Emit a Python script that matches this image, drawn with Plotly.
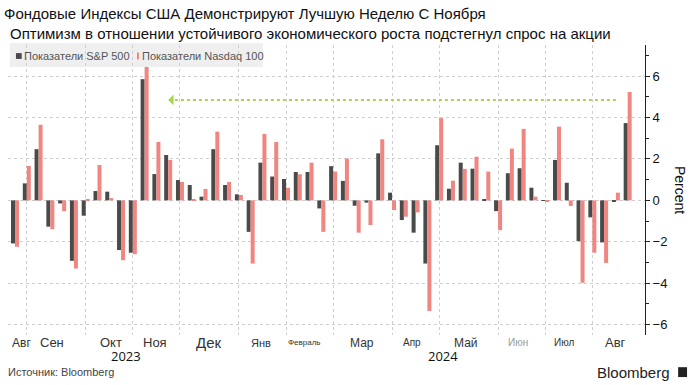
import pandas as pd
import plotly.graph_objects as go

# ---------------- data ----------------
week_start = "2023-08-18"
n_weeks = 53
spx = [-2.08, 0.82, 2.47, -1.27, -0.15, -2.92, -0.74, 0.45, 0.42, -2.40,
       -2.53, 5.85, 1.27, 2.19, 0.98, 0.74, 0.18, 2.47, 0.74, 0.29,
       -1.52, 1.82, 1.15, 1.03, 1.37, 1.37, -0.39, 1.65, 0.94, -0.26,
       -0.11, 2.27, 0.37, -0.95, -1.56, -3.05, 2.66, 0.56, 1.82, 1.53,
       0.02, -0.52, 1.31, 1.55, 0.61, -0.03, 1.95, 0.85, -1.97, -0.82,
       -2.03, -0.05, 3.73]
ndx = [-2.24, 1.66, 3.65, -1.39, -0.52, -3.29, 0.05, 1.71, 0.11, -2.89,
       -2.60, 6.44, 2.82, 1.95, 0.89, 0.06, 0.55, 3.32, 0.89, 0.26,
       -3.05, 3.21, 2.82, 0.61, 1.26, 1.82, -1.52, 1.39, 2.02, -1.56,
       -1.19, 2.95, -0.47, -0.79, -0.58, -5.34, 3.97, 0.95, 1.52, 2.11,
       1.39, -1.44, 2.50, 3.45, 0.18, -0.05, 3.56, -0.27, -3.98, -2.53,
       -3.02, 0.37, 5.23]
series_names = ["Показатели S&P 500", "Показатели Nasdaq 100"]

month_labels = ["Авг", "Сен", "Окт", "Ноя", "Дек", "Янв", "Февраль", "Мар",
                "Апр", "Май", "Июн", "Июл", "Авг"]
month_label_dates = ["2023-08-22", "2023-09-09", "2023-10-14", "2023-11-09",
                     "2023-12-11", "2024-01-11", "2024-02-06", "2024-03-11",
                     "2024-04-10", "2024-05-12", "2024-06-12", "2024-07-09",
                     "2024-08-09"]
year_labels = ["2023", "2024"]
year_label_dates = ["2023-10-23", "2024-04-28"]
grid_dates = ["2023-08-25", "2023-09-29", "2023-10-27", "2023-11-24",
              "2023-12-29", "2024-01-26", "2024-02-23", "2024-03-29",
              "2024-04-26", "2024-05-31", "2024-06-28", "2024-07-26"]
y_ticks = [-6, -4, -2, 0, 2, 4, 6]

arrow_level = 4.85
arrow_from = "2024-08-09"
arrow_to = "2023-11-17"

title = "Фондовые Индексы США Демонстрируют Лучшую Неделю С Ноября"
subtitle = "Оптимизм в отношении устойчивого экономического роста подстегнул спрос на акции"
source = "Источник: Bloomberg"

# ---------------- styles ----------------
dates = pd.date_range(week_start, periods=n_weeks, freq="7D")
dark = "#4a4a4a"
pink = "#ef8682"
font_main = "Liberation Sans, Arial, sans-serif"
label_sizes = [12, 13, 13, 13, 15, 11, 8, 12, 10, 12, 10, 10, 13]
label_colors = ["#333"] * 10 + ["#999"] + ["#333"] * 2

fig = go.Figure()
fig.add_bar(x=dates, y=spx, name=series_names[0], marker_color=dark,
            marker_line_width=0, showlegend=False)
fig.add_bar(x=dates, y=ndx, name=series_names[1], marker_color=pink,
            marker_line_width=0, showlegend=False)

fig.update_layout(
    width=699, height=385,
    margin=dict(l=8, r=54, t=45, b=50),
    paper_bgcolor="white", plot_bgcolor="white",
    barmode="group", bargap=0.32, bargroupgap=0,
    font=dict(family=font_main, color="#222"),
    showlegend=False,
)
fig.update_xaxes(
    type="date", range=["2023-08-13 20:00", "2024-08-26 07:00"],
    tickmode="array", tickvals=grid_dates, ticktext=[""] * len(grid_dates),
    showgrid=True, gridcolor="#cfcfcf", griddash="dot", gridwidth=1,
    ticks="", showline=False, zeroline=False,
)
fig.update_yaxes(
    range=[-6.5, 7.5], side="right",
    tickmode="array", tickvals=y_ticks,
    showgrid=True, gridcolor="#cfcfcf", griddash="dot", gridwidth=1,
    zeroline=False, showline=True, linecolor="#222", linewidth=1,
    ticks="outside", ticklen=4, tickcolor="#222",
    tickfont=dict(size=13, color="#111"),
    minor=dict(tickvals=[-5, -3, -1, 1, 3, 5, 7], ticks="outside", ticklen=3,
               tickcolor="#222", showgrid=False),
)

# arrow (dotted line + head)
fig.add_shape(type="line", xref="x", yref="y", x0=arrow_from, x1=arrow_to,
              y0=arrow_level, y1=arrow_level,
              line=dict(color="#a8d64e", width=2, dash="dot"))
fig.add_annotation(x=arrow_to, y=arrow_level, ax="2023-11-21", ay=arrow_level,
                   xref="x", yref="y", axref="x", ayref="y", text="",
                   showarrow=True, arrowhead=1, arrowsize=1.2, arrowwidth=1.5,
                   arrowcolor="#a8d64e")

# legend (manual)
fig.add_shape(type="rect", xref="paper", yref="paper", x0=0.003, x1=0.400,
              y0=0.924, y1=1.007, fillcolor="#efefef", line_width=0, layer="below")
fig.add_shape(type="rect", xref="paper", yref="paper", x0=0.0125, x1=0.0215,
              y0=0.952, y1=0.972, fillcolor=dark, line_width=0)
fig.add_shape(type="rect", xref="paper", yref="paper", x0=0.2025, x1=0.2055,
              y0=0.950, y1=0.974, fillcolor=pink, line_width=0)
fig.add_annotation(x=0.0225, y=0.962, xref="paper", yref="paper", text=series_names[0],
                   showarrow=False, xanchor="left", yanchor="middle",
                   font=dict(size=11, color="#555"))
fig.add_annotation(x=0.2065, y=0.962, xref="paper", yref="paper", text=series_names[1],
                   showarrow=False, xanchor="left", yanchor="middle",
                   font=dict(size=11, color="#555"))

# month and year labels
for lab, d, s, c in zip(month_labels, month_label_dates, label_sizes, label_colors):
    fig.add_annotation(x=d, y=-0.027, xref="x", yref="paper", text=lab,
                       showarrow=False, xanchor="center", yanchor="middle",
                       font=dict(size=s, color=c))
for lab, d in zip(year_labels, year_label_dates):
    fig.add_annotation(x=d, y=-0.074, xref="x", yref="paper", text=lab,
                       showarrow=False, xanchor="center", yanchor="middle",
                       font=dict(size=13, color="#111", family="Open Sans, sans-serif"))

# titles
fig.add_annotation(x=-0.0094, y=1.110, xref="paper", yref="paper", text=title,
                   showarrow=False, xanchor="left", yanchor="middle",
                   font=dict(size=15, color="#111"))
fig.add_annotation(x=0.0, y=1.041, xref="paper", yref="paper", text=subtitle,
                   showarrow=False, xanchor="left", yanchor="middle",
                   font=dict(size=15, color="#111"))

# axis title
fig.add_annotation(x=1.055, y=0.5, xref="paper", yref="paper", text="Percent",
                   showarrow=False, textangle=90, xanchor="center", yanchor="middle",
                   font=dict(size=14, color="#111"))

# footer
fig.add_annotation(x=-0.003, y=-0.128, xref="paper", yref="paper", text=source,
                   showarrow=False, xanchor="left", yanchor="middle",
                   font=dict(size=11, color="#444"))
fig.add_annotation(x=1.042, y=-0.128, xref="paper", yref="paper", text="Bloomberg",
                   showarrow=False, xanchor="right", yanchor="middle",
                   font=dict(size=15, color="#222"))
fig.add_shape(type="rect", xref="paper", yref="paper", x0=1.052, x1=1.066,
              y0=-0.145, y1=-0.111, fillcolor="#222", line_width=0)

fig.write_html("out.html", config={"displayModeBar": False},
               post_script="document.body.style.margin='0px';")
